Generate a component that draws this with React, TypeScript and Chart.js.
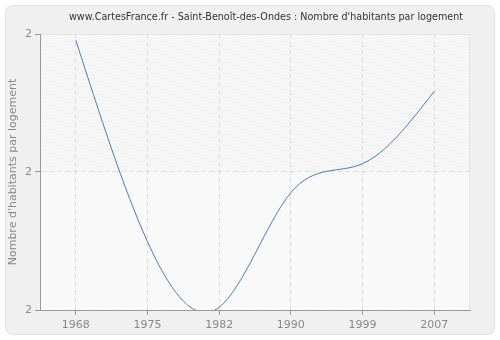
import React, { useEffect, useRef } from "react";
import { Chart, registerables } from "chart.js";

Chart.register(...registerables);

const years = ["1968", "1975", "1982", "1990", "1999", "2007"];
const habitantsParLogement = [2.391, 2.099, 2.004, 2.17, 2.212, 2.317];
const yTicks = [2.0, 2.2, 2.4];

const TITLE = "www.CartesFrance.fr - Saint-Benoît-des-Ondes : Nombre d'habitants par logement";
const FONT = "'DejaVu Sans', Verdana, sans-serif";

// Natural cubic spline through the library-computed point positions,
// expressed as bezier control points on Chart.js point elements.
const naturalSplinePlugin = {
  id: "naturalSpline",
  beforeDatasetDraw(chart: any, args: any) {
    const meta = chart.getDatasetMeta(args.index);
    const pts = meta.data;
    const n = pts.length;
    if (n < 3) return;
    const xs = pts.map((p: any) => p.x);
    const ys = pts.map((p: any) => p.y);
    const h: number[] = [];
    for (let i = 0; i < n - 1; i++) h.push(xs[i + 1] - xs[i]);
    const M = new Array(n).fill(0);
    const a: number[] = [], b: number[] = [], c: number[] = [], d: number[] = [];
    for (let i = 1; i < n - 1; i++) {
      a.push(h[i - 1]);
      b.push(2 * (h[i - 1] + h[i]));
      c.push(h[i]);
      d.push(6 * ((ys[i + 1] - ys[i]) / h[i] - (ys[i] - ys[i - 1]) / h[i - 1]));
    }
    const m = b.length;
    const cp: number[] = new Array(m).fill(0), dp: number[] = new Array(m).fill(0);
    cp[0] = c[0] / b[0];
    dp[0] = d[0] / b[0];
    for (let i = 1; i < m; i++) {
      const den = b[i] - a[i] * cp[i - 1];
      cp[i] = c[i] / den;
      dp[i] = (d[i] - a[i] * dp[i - 1]) / den;
    }
    const sol = new Array(m).fill(0);
    sol[m - 1] = dp[m - 1];
    for (let i = m - 2; i >= 0; i--) sol[i] = dp[i] - cp[i] * sol[i + 1];
    for (let i = 0; i < m; i++) M[i + 1] = sol[i];
    for (let i = 0; i < n - 1; i++) {
      const hi = h[i];
      const s = (ys[i + 1] - ys[i]) / hi;
      const d0 = s - (hi * (2 * M[i] + M[i + 1])) / 6;
      const d1 = s + (hi * (M[i] + 2 * M[i + 1])) / 6;
      pts[i].cp2x = xs[i] + hi / 3;
      pts[i].cp2y = ys[i] + (d0 * hi) / 3;
      pts[i + 1].cp1x = xs[i + 1] - hi / 3;
      pts[i + 1].cp1y = ys[i + 1] - (d1 * hi) / 3;
    }
    pts[0].cp1x = xs[0];
    pts[0].cp1y = ys[0];
    pts[n - 1].cp2x = xs[n - 1];
    pts[n - 1].cp2y = ys[n - 1];
    meta.dataset._pointsUpdated = true;
  },
};

const decorPlugin = {
  id: "decor",
  beforeDraw(chart: any) {
    const { ctx, chartArea } = chart;
    const { left, right, top, bottom } = chartArea;
    ctx.save();
    ctx.fillStyle = "#ffffff";
    ctx.fillRect(0, 0, chart.width, chart.height);
    const x = 5.5, y = 5.5, w = 489, h = 329, r = 8;
    ctx.beginPath();
    ctx.moveTo(x + r, y);
    ctx.lineTo(x + w - r, y);
    ctx.quadraticCurveTo(x + w, y, x + w, y + r);
    ctx.lineTo(x + w, y + h - r);
    ctx.quadraticCurveTo(x + w, y + h, x + w - r, y + h);
    ctx.lineTo(x + r, y + h);
    ctx.quadraticCurveTo(x, y + h, x, y + h - r);
    ctx.lineTo(x, y + r);
    ctx.quadraticCurveTo(x, y, x + r, y);
    ctx.closePath();
    ctx.fillStyle = "#f0f0f0";
    ctx.fill();
    ctx.strokeStyle = "#e2e2e2";
    ctx.lineWidth = 1;
    ctx.stroke();
    ctx.fillStyle = "#fcfcfc";
    ctx.fillRect(left, top, right - left, bottom - top);
    const mid = chart.scales.y.getPixelForValue(2.2);
    ctx.beginPath();
    ctx.rect(left, top, right - left, bottom - top);
    ctx.clip();
    ctx.lineWidth = 1;
    ctx.strokeStyle = "rgba(222,222,222,0.6)";
    for (let k = -(bottom - top); k < right - left + 10; k += 3) {
      ctx.beginPath();
      ctx.moveTo(left + k, bottom);
      ctx.lineTo(left + k + (bottom - top), top);
      ctx.stroke();
    }
    ctx.fillStyle = "rgba(250,250,250,0.65)";
    ctx.fillRect(left, mid, right - left, bottom - mid);
    ctx.restore();
    ctx.save();
    ctx.strokeStyle = "#e4e4e4";
    ctx.lineWidth = 1;
    ctx.beginPath();
    ctx.moveTo(right - 0.5, top);
    ctx.lineTo(right - 0.5, bottom);
    ctx.moveTo(left, top + 0.5);
    ctx.lineTo(right, top + 0.5);
    ctx.stroke();
    ctx.restore();
  },
  afterDraw(chart: any) {
    const { ctx } = chart;
    ctx.save();
    ctx.font = `9.6px ${FONT}`;
    ctx.fillStyle = "#333333";
    ctx.textAlign = "center";
    ctx.textBaseline = "middle";
    ctx.fillText(TITLE, 266, 17);
    ctx.restore();
  },
};

export default function App() {
  const ref = useRef<HTMLCanvasElement>(null);
  useEffect(() => {
    if (!ref.current) return;
    const chart = new Chart(ref.current, {
      type: "line",
      data: {
        labels: years,
        datasets: [
          {
            data: habitantsParLogement,
            borderColor: "#4f7bb3",
            borderWidth: 1,
            pointRadius: 0,
            tension: 0.4,
            capBezierPoints: false,
            fill: false,
          },
        ],
      },
      options: {
        animation: false,
        responsive: false,
        devicePixelRatio: 1,
        layout: { padding: { left: 0, right: 30, top: 34, bottom: 0 } },
        plugins: { legend: { display: false }, title: { display: false }, tooltip: { enabled: false } },
        scales: {
          x: {
            type: "category",
            offset: true,
            afterFit(axis: any) {
              axis.height = 30;
            },
            grid: {
              offset: false,
              color: "#dedede",
              tickColor: "#999999",
              tickLength: 5,
              tickBorderDash: [],
            },
            border: { display: true, color: "#999999", dash: [5, 3] },
            ticks: { color: "#888888", font: { family: FONT, size: 11 }, padding: 4, maxRotation: 0 },
          },
          y: {
            min: 2.0,
            max: 2.4,
            afterFit(axis: any) {
              axis.width = 40;
            },
            afterBuildTicks(axis: any) {
              axis.ticks = yTicks.map((v) => ({ value: v }));
            },
            grid: {
              color: (c: any) => (c.tick && c.tick.value === 2.2 ? "#dedede" : "rgba(0,0,0,0)"),
              tickColor: "#999999",
              tickLength: 5,
              tickBorderDash: [],
            },
            border: { display: true, color: "#999999", dash: [5, 3] },
            ticks: {
              color: "#888888",
              font: { family: FONT, size: 11 },
              padding: 3,
              callback: (v: any) => String(Math.round(Number(v))),
            },
            title: {
              display: true,
              text: "Nombre d'habitants par logement",
              color: "#888888",
              font: { family: FONT, size: 11 },
              padding: { top: 7, bottom: 2 },
            },
          },
        },
      },
      plugins: [decorPlugin, naturalSplinePlugin],
    });
    return () => chart.destroy();
  }, []);
  return (
    <div style={{ position: "fixed", left: 0, top: 0, width: 500, height: 340 }}>
      <canvas ref={ref} width={500} height={340} style={{ width: 500, height: 340 }} />
    </div>
  );
}
